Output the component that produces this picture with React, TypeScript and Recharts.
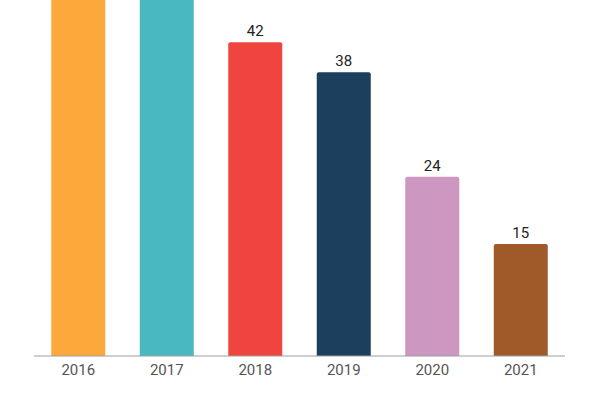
import { BarChart, Bar, XAxis, YAxis, Cell, LabelList } from "recharts"

const years = ["2016", "2017", "2018", "2019", "2020", "2021"]
const counts = [58, 52, 42, 38, 24, 15]
const barColors = ["#FDA83A", "#4AB8C1", "#F0453F", "#1C3F5D", "#CC97C1", "#A05A2A"]

const data = years.map((year, i) => ({ year, count: counts[i] }))

// labels of bars running past the top edge are not visible in the chart
const TopLabel = (props: any) => {
  const { x, y, width, value } = props
  if (y < 20) return null
  return (
    <text x={x + width / 2} y={y - 6} textAnchor="middle" fill="#222222" fontSize={15}>
      {value}
    </text>
  )
}

export default function App() {
  return (
    <div
      style={{
        position: "absolute",
        top: 0,
        left: 0,
        width: 600,
        height: 400,
        overflow: "hidden",
        fontFamily: "Roboto, sans-serif",
      }}
    >
      <BarChart
        width={600}
        height={400}
        data={data}
        margin={{ top: 0, right: 35, left: 34, bottom: 14 }}
        barCategoryGap="19.5%"
      >
        <XAxis
          dataKey="year"
          tickLine={false}
          axisLine={{ stroke: "#9e9e9e", strokeWidth: 1 }}
          tick={{ fill: "#555555", fontSize: 15 }}
        />
        <YAxis hide domain={[0, 47.66]} allowDataOverflow />
        <Bar dataKey="count" radius={[2, 2, 0, 0]} isAnimationActive={false}>
          {data.map((d, i) => (
            <Cell key={d.year} fill={barColors[i]} />
          ))}
          <LabelList dataKey="count" content={TopLabel} />
        </Bar>
      </BarChart>
    </div>
  )
}
